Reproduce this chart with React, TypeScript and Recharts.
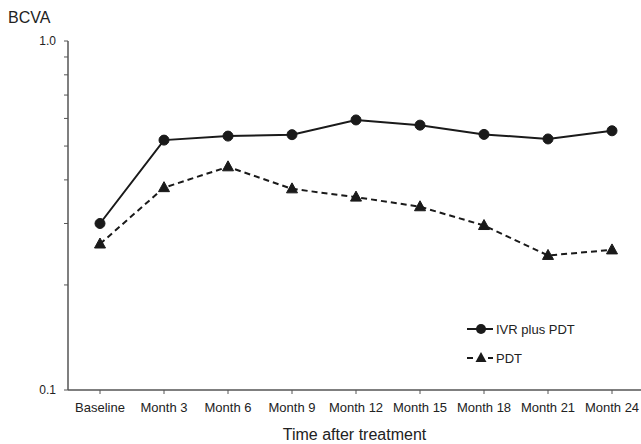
import React from 'react';
import { LineChart, Line, XAxis, YAxis, Customized, Label } from 'recharts';

const categories = ['Baseline', 'Month 3', 'Month 6', 'Month 9', 'Month 12', 'Month 15', 'Month 18', 'Month 21', 'Month 24'];
const ivrPlusPdt = [0.300, 0.520, 0.534, 0.539, 0.594, 0.574, 0.540, 0.524, 0.553];
const pdtOnly = [0.262, 0.380, 0.436, 0.377, 0.357, 0.335, 0.296, 0.243, 0.252];
const yTicks = [0.1, 0.2, 0.3, 0.4, 0.5, 0.6, 0.7, 0.8, 0.9, 1.0];
const yTickLabels: Record<string, string> = { '0.1': '0.1', '1': '1.0' };
const seriesNames = ['IVR plus PDT', 'PDT'];

const data = categories.map((c, i) => ({ name: c, ivr: ivrPlusPdt[i], pdt: pdtOnly[i] }));

const INK = '#1a1a1a';
const AXIS = '#555';
const TEXT = '#222';

const TriangleDot = (props: any) => {
  const { cx, cy, index } = props;
  if (cx == null || cy == null) return <g key={`t-${index}`} />;
  return (
    <polygon
      key={`t-${index}`}
      points={`${cx},${cy - 6} ${cx - 5.5},${cy + 4} ${cx + 5.5},${cy + 4}`}
      fill={INK}
      stroke={INK}
      strokeWidth={1}
    />
  );
};

const Overlay = () => (
  <g>
    <text x={8} y={23} fontSize={16} fill={TEXT}>BCVA</text>
    <g transform="translate(460,315)">
      <line x1={7} x2={33} y1={14} y2={14} stroke={INK} strokeWidth={2} />
      <circle cx={21} cy={14} r={5} fill={INK} />
      <text x={36} y={18.5} fontSize={13} fill={TEXT}>{seriesNames[0]}</text>
      <line x1={7} x2={13} y1={43} y2={43} stroke={INK} strokeWidth={2} />
      <line x1={28} x2={33} y1={43} y2={43} stroke={INK} strokeWidth={2} />
      <polygon points={`21,37 15.5,47 26.5,47`} fill={INK} />
      <text x={36} y={47.5} fontSize={13} fill={TEXT}>{seriesNames[1]}</text>
    </g>
  </g>
);

export default function App() {
  return (
    <div style={{ position: 'absolute', left: 0, top: 0, width: 641, height: 444, background: '#fff', fontFamily: '"Liberation Sans", Arial, Helvetica, sans-serif' }}>
      <LineChart width={641} height={444} data={data} margin={{ top: 41, right: 0, bottom: 24, left: 8 }}>
        <XAxis
          dataKey="name"
          padding={{ left: 32, right: 29 }}
          axisLine={{ stroke: AXIS, strokeWidth: 1.5 }}
          tickLine={{ stroke: AXIS }}
          tickSize={4}
          tickMargin={9}
          height={30}
          interval={0}
          tick={{ fontSize: 13, fill: TEXT }}
        >
          <Label value="Time after treatment" position="bottom" offset={9} style={{ fontSize: 16, fill: TEXT }} />
        </XAxis>
        <YAxis
          type="number"
          scale="log"
          domain={[0.1, 1]}
          ticks={yTicks}
          allowDataOverflow
          width={60}
          interval={0}
          axisLine={{ stroke: AXIS, strokeWidth: 1.5 }}
          tickLine={{ stroke: AXIS }}
          tickSize={4}
          tickMargin={8}
          tick={{ fontSize: 12, fill: TEXT }}
          tickFormatter={(v: number) => yTickLabels[String(v)] ?? ''}
        />
        <Line
          type="linear"
          dataKey="ivr"
          name={seriesNames[0]}
          stroke={INK}
          strokeWidth={2}
          dot={{ r: 5, fill: INK, stroke: INK, strokeWidth: 1 }}
          activeDot={false}
          isAnimationActive={false}
        />
        <Line
          type="linear"
          dataKey="pdt"
          name={seriesNames[1]}
          stroke={INK}
          strokeWidth={2}
          strokeDasharray="6 4"
          dot={TriangleDot}
          activeDot={false}
          isAnimationActive={false}
        />
        <Customized component={Overlay} />
      </LineChart>
    </div>
  );
}
